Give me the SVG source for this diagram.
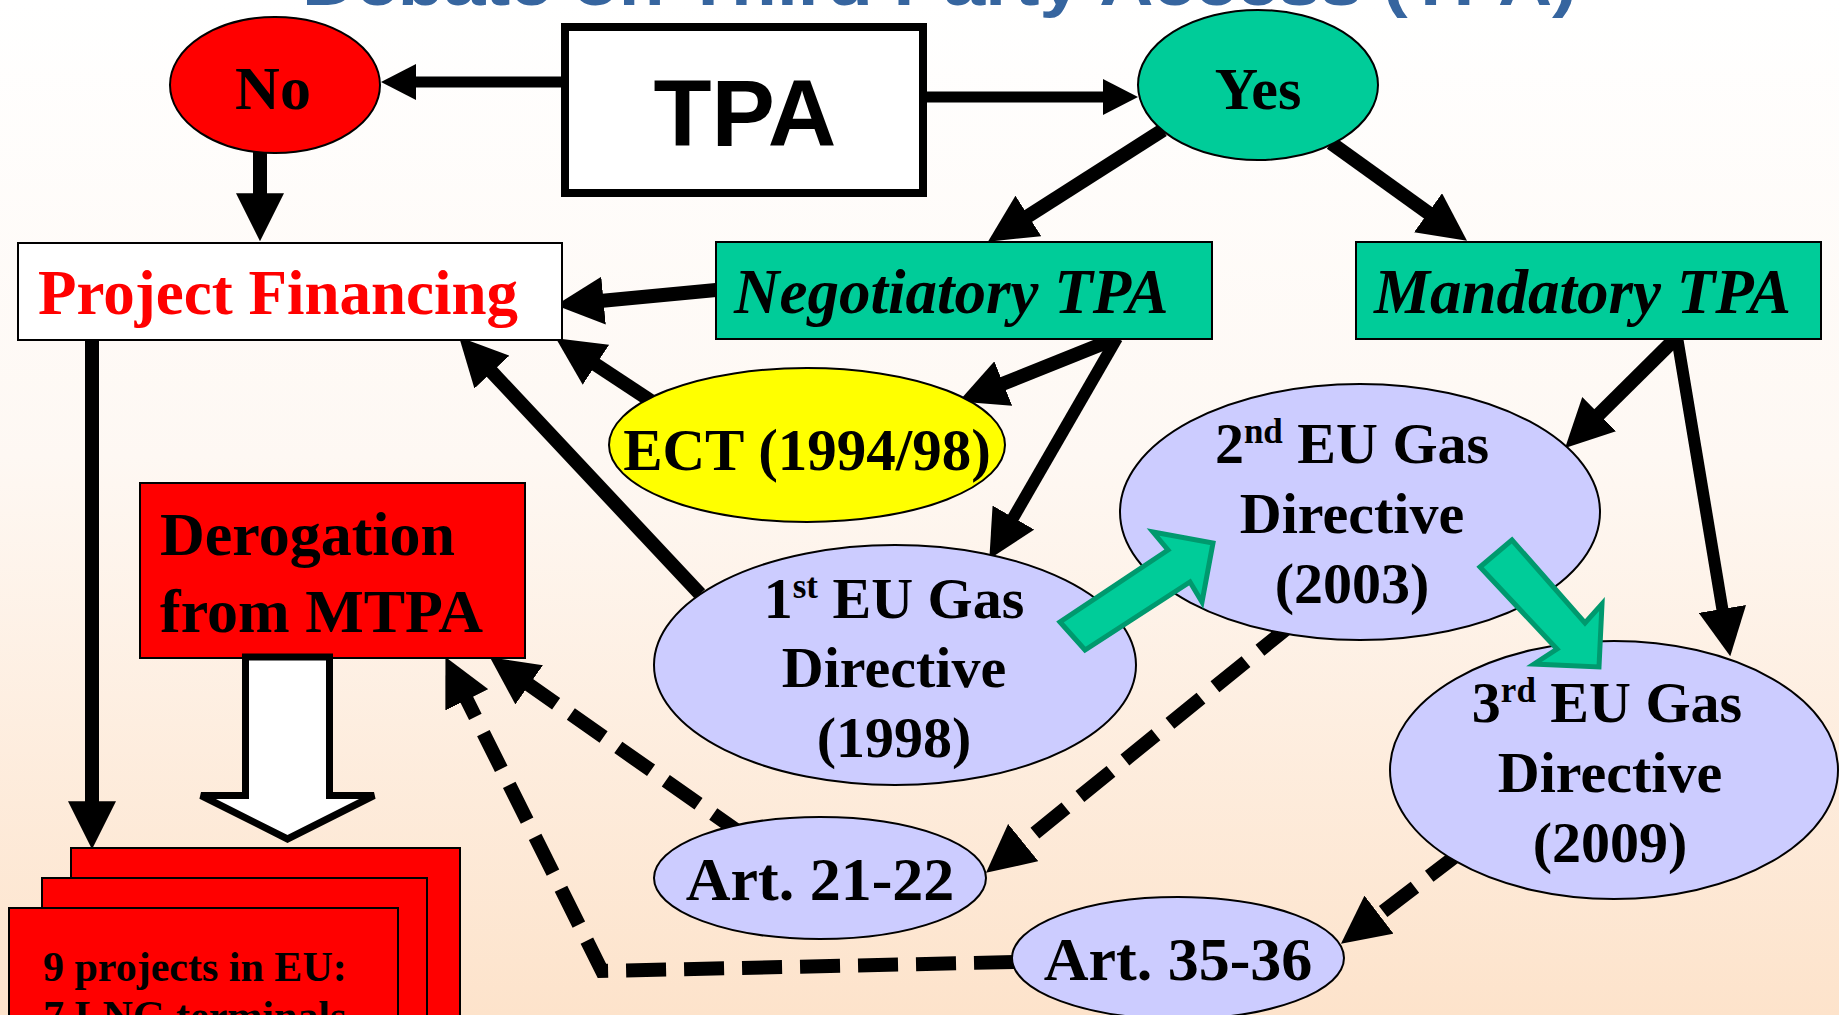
<svg xmlns="http://www.w3.org/2000/svg" width="1839" height="1015" viewBox="0 0 1839 1015">
<defs>
  <linearGradient id="bg" x1="0" y1="0" x2="0" y2="1">
    <stop offset="0" stop-color="#ffffff"/>
    <stop offset="0.45" stop-color="#fef8f3"/>
    <stop offset="1" stop-color="#fde3cb"/>
  </linearGradient>
  <marker id="big" markerUnits="userSpaceOnUse" markerWidth="48" markerHeight="48" viewBox="0 0 46 46" refX="16" refY="23" orient="auto">
    <path d="M0,0 L46,23 L0,46 z" fill="#000"/>
  </marker>
  <marker id="small" markerUnits="userSpaceOnUse" markerWidth="36" markerHeight="36" viewBox="0 0 35 36" refX="13" refY="18" orient="auto">
    <path d="M0,0 L35,18 L0,36 z" fill="#000"/>
  </marker>
  <style>
    .t { font-family: "Liberation Serif", "Times New Roman", serif; font-weight: bold; }
    .c { text-anchor: middle; }
    .lav { fill: #ccccff; stroke: #000; stroke-width: 2; }
    .solid { fill: none; stroke: #000; stroke-width: 14; marker-end: url(#big); }
    .thin { stroke-width: 12; }
    .dash { fill: none; stroke: #000; stroke-width: 14; stroke-dasharray: 40 18; marker-end: url(#big); }
    .garrow { fill: #00cc99; stroke: #00996e; stroke-width: 5; stroke-linejoin: miter; }
    .redbox { fill: #ff0000; stroke: #000; stroke-width: 2; }
  </style>
</defs>
<rect x="0" y="0" width="1839" height="1015" fill="url(#bg)"/>

<text id="title" x="302" y="5" font-family="Liberation Sans, Arial, sans-serif" font-weight="bold" font-size="64" fill="#36659f" textLength="1275" lengthAdjust="spacingAndGlyphs">Debate on Third Party Access (TPA)</text>

<g id="connectors">
  <line x1="561" y1="82" x2="403" y2="82" stroke="#000" stroke-width="11" marker-end="url(#small)"/>
  <line x1="927" y1="97" x2="1116" y2="97" stroke="#000" stroke-width="11" marker-end="url(#small)"/>
  <line class="solid" x1="260" y1="150" x2="260" y2="210"/>
  <line class="solid" x1="92" y1="340" x2="92" y2="818"/>
  <line class="solid" x1="716" y1="290" x2="586.9" y2="302.2"/>
  <line class="solid" x1="1163" y1="130" x2="1014.3" y2="224.9"/>
  <line class="solid" x1="1331" y1="143" x2="1441.6" y2="222.5"/>
  <line class="solid" x1="1117" y1="338" x2="987.8" y2="389.8"/>
  <line class="solid thin" x1="1117" y1="338" x2="1005" y2="532"/>
  <line class="solid" x1="651" y1="401" x2="582" y2="355.5"/>
  <line class="solid" x1="700" y1="594" x2="480.5" y2="359.9"/>
  <line class="solid" x1="1677" y1="337" x2="1587.3" y2="425.9"/>
  <line class="solid thin" x1="1677" y1="337" x2="1725.1" y2="625.4"/>
  <line class="dash" x1="1291" y1="625" x2="1010.3" y2="853.1"/>
  <line class="dash" x1="1461" y1="852" x2="1365.8" y2="924.8"/>
  <line class="dash" x1="746" y1="837" x2="515.5" y2="675.2"/>
  <polyline class="dash" points="1014,962 602,971 459.4,684.9" stroke-linejoin="miter"/>
</g>

<g id="node-no">
  <ellipse cx="275" cy="85" rx="105" ry="68" fill="#ff0000" stroke="#000" stroke-width="2"/>
  <text class="t c" x="273" y="109" font-size="62">No</text>
</g>

<g id="node-tpa">
  <rect x="565" y="27" width="358" height="166" fill="#fff" stroke="#000" stroke-width="8"/>
  <text x="745" y="146" font-family="Liberation Sans, Arial, sans-serif" font-weight="bold" font-size="95" text-anchor="middle">TPA</text>
</g>

<g id="node-yes">
  <ellipse cx="1258" cy="85" rx="120" ry="75" fill="#00cc99" stroke="#000" stroke-width="2"/>
  <text class="t c" x="1258" y="109" font-size="60">Yes</text>
</g>

<g id="node-pf">
  <rect x="18" y="243" width="544" height="97" fill="#fff" stroke="#000" stroke-width="2"/>
  <text class="t" x="38" y="314" font-size="63" fill="#ff0000">Project Financing</text>
</g>

<g id="node-ntpa">
  <rect x="716" y="242" width="496" height="97" fill="#00cc99" stroke="#000" stroke-width="2"/>
  <text class="t" x="734" y="313" font-size="63" font-style="italic">Negotiatory TPA</text>
</g>

<g id="node-mtpa">
  <rect x="1356" y="242" width="465" height="97" fill="#00cc99" stroke="#000" stroke-width="2"/>
  <text class="t" x="1374" y="313" font-size="63" font-style="italic">Mandatory TPA</text>
</g>

<g id="node-ect">
  <ellipse cx="807" cy="445" rx="198" ry="77" fill="#ffff00" stroke="#000" stroke-width="2"/>
  <text class="t c" x="807" y="470" font-size="59">ECT (1994/98)</text>
</g>

<g id="node-derog">
  <rect x="140" y="483" width="385" height="175" class="redbox"/>
  <text class="t" x="160" y="555" font-size="62">Derogation</text>
  <text class="t" x="160" y="632" font-size="62">from MTPA</text>
</g>

<g id="node-hollow-arrow">
  <polygon points="245.5,657 329.5,657 329.5,795.5 374,795.5 287.5,839 201,795.5 245.5,795.5" fill="#fff" stroke="#000" stroke-width="7"/>
</g>

<g id="node-projects">
  <rect x="71" y="848" width="389" height="200" class="redbox"/>
  <rect x="42" y="878" width="385" height="170" class="redbox"/>
  <rect x="9" y="908" width="389" height="140" class="redbox"/>
  <text class="t" x="43" y="981" font-size="42">9 projects in EU:</text>
  <text class="t" x="43" y="1030" font-size="42">7 LNG terminals</text>
</g>

<g id="node-eu1">
  <ellipse cx="895" cy="665" rx="241" ry="120" class="lav"/>
  <text class="t c" x="894" y="618" font-size="58">1<tspan font-size="35" dy="-20">st</tspan><tspan dy="20"> EU Gas</tspan></text>
  <text class="t c" x="894" y="687" font-size="58">Directive</text>
  <text class="t c" x="894" y="757" font-size="58">(1998)</text>
</g>

<g id="node-eu2">
  <ellipse cx="1360" cy="512" rx="240" ry="128" class="lav"/>
  <text class="t c" x="1352" y="463" font-size="58">2<tspan font-size="35" dy="-20">nd</tspan><tspan dy="20"> EU Gas</tspan></text>
  <text class="t c" x="1352" y="533" font-size="58">Directive</text>
  <text class="t c" x="1352" y="603" font-size="58">(2003)</text>
</g>

<g id="node-eu3">
  <ellipse cx="1614" cy="770" rx="224" ry="129" class="lav"/>
  <text class="t c" x="1607" y="722" font-size="58">3<tspan font-size="35" dy="-20">rd</tspan><tspan dy="20"> EU Gas</tspan></text>
  <text class="t c" x="1610" y="792" font-size="58">Directive</text>
  <text class="t c" x="1610" y="862" font-size="58">(2009)</text>
</g>

<g id="node-art2122">
  <ellipse cx="820" cy="878" rx="166" ry="61" class="lav"/>
  <text class="t c" x="820" y="900" font-size="62">Art. 21-22</text>
</g>

<g id="node-art3536">
  <ellipse cx="1178" cy="958" rx="166" ry="61" class="lav"/>
  <text class="t c" x="1178" y="980" font-size="62">Art. 35-36</text>
</g>

<g id="green-arrows">
  <polygon class="garrow" points="1060,622 1085,650 1190,582 1202,602 1213,543 1153,532 1168,550"/>
  <polygon class="garrow" points="1512,540 1480,567 1557,649 1534,664 1599,667 1602,604 1585,623"/>
</g>
</svg>
